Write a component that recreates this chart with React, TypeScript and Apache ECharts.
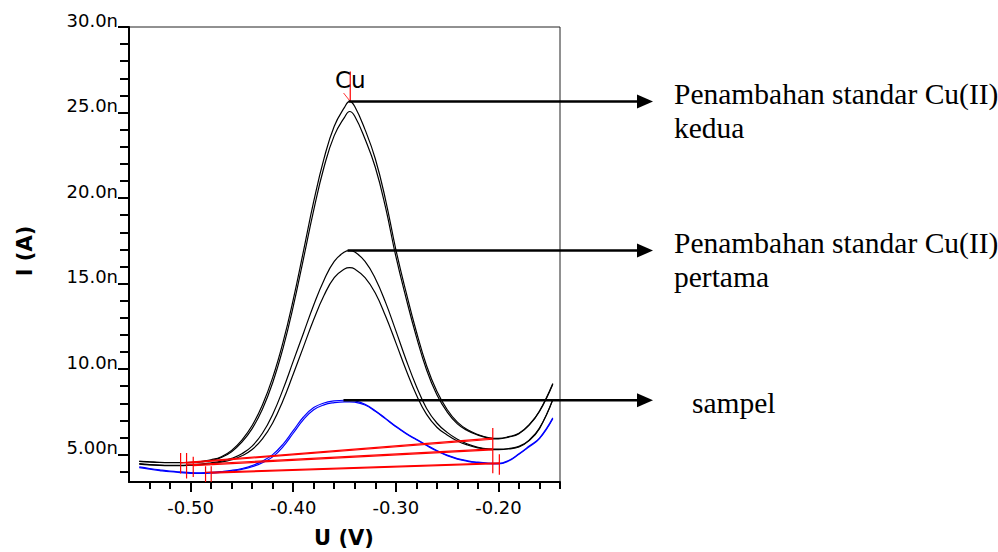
import React, { useEffect, useRef } from 'react';
import * as echarts from 'echarts';

// Potential (V) sampling points
const potentials = [
  -0.55, -0.54, -0.53, -0.52, -0.51, -0.50, -0.49, -0.48, -0.47, -0.46,
  -0.45, -0.44, -0.43, -0.42, -0.41, -0.40, -0.39, -0.38, -0.37, -0.36,
  -0.35, -0.345, -0.34, -0.33, -0.32, -0.31, -0.30, -0.29, -0.28, -0.27,
  -0.26, -0.25, -0.24, -0.23, -0.22, -0.21, -0.20, -0.19, -0.18, -0.17,
  -0.16, -0.147,
];

// Current (nA) - second standard addition (two scans)
const kedua1 = [
  4.61, 4.58, 4.55, 4.54, 4.54, 4.55, 4.6, 4.7, 4.88, 5.25,
  5.85, 6.7, 7.9, 9.5, 11.55, 14.05, 16.9, 19.8, 22.3, 24.2,
  25.3, 25.65, 25.35, 24.0, 22.3, 19.9, 17.0, 14.5, 12.2, 10.2,
  8.7, 7.64, 6.9, 6.45, 6.18, 6.0, 5.95, 6.05, 6.25, 6.75,
  7.55, 9.16,
];
const kedua2 = [
  4.6, 4.57, 4.54, 4.53, 4.53, 4.53, 4.57, 4.66, 4.83, 5.17,
  5.73, 6.52, 7.65, 9.2, 11.2, 13.65, 16.45, 19.3, 21.8, 23.65,
  24.72, 25.06, 24.78, 23.45, 21.8, 19.45, 16.6, 14.15, 11.9, 9.95,
  8.5, 7.5, 6.8, 6.4, 6.14, 5.97, 5.92, 6.02, 6.22, 6.72,
  7.52, 9.12,
];
// first standard addition (two scans)
const pertama1 = [
  4.47, 4.42, 4.39, 4.38, 4.38, 4.40, 4.44, 4.52, 4.62, 4.78,
  5.05, 5.5, 6.25, 7.35, 8.8, 10.45, 12.1, 13.75, 15.2, 16.3,
  16.85, 16.93, 16.85, 16.3, 15.3, 13.9, 12.25, 10.55, 9.0, 7.7,
  6.85, 6.3, 5.9, 5.62, 5.43, 5.34, 5.32, 5.36, 5.48, 5.85,
  6.55, 8.23,
];
const pertama2 = [
  4.45, 4.40, 4.37, 4.36, 4.36, 4.38, 4.41, 4.48, 4.56, 4.7,
  4.93, 5.3, 5.92, 6.85, 8.15, 9.7, 11.3, 12.9, 14.3, 15.35,
  15.85, 15.93, 15.85, 15.35, 14.45, 13.1, 11.55, 9.95, 8.5, 7.35,
  6.6, 6.15, 5.8, 5.56, 5.39, 5.31, 5.29, 5.33, 5.45, 5.82,
  6.52, 8.2,
];
// sample (two scans)
const sampel1 = [
  4.28, 4.19, 4.11, 4.04, 3.99, 3.95, 3.94, 3.96, 4.01, 4.08,
  4.19, 4.36, 4.62, 5.0, 5.6, 6.4, 7.2, 7.75, 8.02, 8.14,
  8.18, 8.18, 8.15, 7.95, 7.57, 7.12, 6.66, 6.25, 5.9, 5.56,
  5.24, 4.97, 4.77, 4.64, 4.56, 4.51, 4.49, 4.66, 5.05, 5.5,
  5.97, 7.15,
];
const sampel2 = [
  4.24, 4.15, 4.07, 4.0, 3.95, 3.91, 3.9, 3.92, 3.97, 4.04,
  4.14, 4.29, 4.53, 4.87, 5.45, 6.25, 7.05, 7.62, 7.91, 8.04,
  8.09, 8.09, 8.07, 7.9, 7.53, 7.09, 6.63, 6.22, 5.87, 5.53,
  5.21, 4.94, 4.74, 4.61, 4.53, 4.48, 4.46, 4.63, 5.02, 5.46,
  5.93, 7.1,
];

// Baselines (start / end points, [V, nA])
const baseKedua1 = [[-0.5097, 4.52], [-0.2055, 5.96]];
const baseKedua2 = [[-0.5039, 4.50], [-0.2055, 5.90]];
const basePertama1 = [[-0.5039, 4.40], [-0.2055, 5.34]];
const basePertama2 = [[-0.4974, 4.36], [-0.2055, 5.28]];
const baseSampel1 = [[-0.4854, 3.96], [-0.1991, 4.52]];
const baseSampel2 = [[-0.4799, 3.92], [-0.1991, 4.47]];

// Baseline end markers: [V, nA low, nA high]
const markerTicks = [
  [-0.5097, 3.89, 5.10],
  [-0.5039, 3.60, 5.10],
  [-0.4974, 3.69, 4.87],
  [-0.4854, 3.40, 4.32],
  [-0.4799, 3.40, 4.32],
  [-0.2055, 3.91, 6.55],
  [-0.1991, 3.82, 5.02],
];

// Peak marker "Cu"
const cuPeak = [-0.3444, 25.65];
const cuMarkTop = 27.4;
const cuMarkDiag = [-0.3509, 26.14];

// Arrow anchors (peak points)
const peakKedua = [-0.346, 25.65];
const peakPertama = [-0.347, 16.93];
const peakSampel = [-0.351, 8.18];

// Axis ticks
const xMajorTicks = [-0.5, -0.4, -0.3, -0.2];
const xMinorTicks = [-0.54, -0.52, -0.48, -0.46, -0.44, -0.42, -0.38, -0.36, -0.34, -0.32, -0.28, -0.26, -0.24, -0.22, -0.18, -0.16, -0.14];
const yMajorTicks = [5, 10, 15, 20, 25, 30];
const yMinorTicks = [4, 6, 7, 8, 9, 11, 12, 13, 14, 16, 17, 18, 19, 21, 22, 23, 24, 26, 27, 28, 29];

const SANS = "'DejaVu Sans', Verdana, sans-serif";
const SERIF = "'Liberation Serif', 'Times New Roman', serif";

const zip = (ys: number[]) => potentials.map((x, i) => [x, ys[i]]);

export default function App() {
  const ref = useRef<HTMLDivElement>(null);
  useEffect(() => {
    if (!ref.current) return;
    const chart = echarts.init(ref.current, undefined, { renderer: 'svg' });

    const curve = (ys: number[], color: string) => ({
      type: 'line', xAxisIndex: 0, yAxisIndex: 0, data: zip(ys), smooth: 0.45,
      showSymbol: false, symbol: 'none', silent: true,
      lineStyle: { color, width: 1.2 },
    });
    const seg = (pts: number[][], width = 1.2) => ({
      type: 'line', xAxisIndex: 0, yAxisIndex: 0, data: pts, showSymbol: false, symbol: 'none', silent: true,
      lineStyle: { color: '#ff0000', width },
    });

    const series: any[] = [
      curve(kedua1, '#000'), curve(kedua2, '#000'),
      curve(pertama1, '#000'), curve(pertama2, '#000'),
      curve(sampel1, '#0000ff'), curve(sampel2, '#0000ff'),
      seg(baseKedua1), seg(baseKedua2), seg(basePertama1), seg(basePertama2),
      seg(baseSampel1), seg(baseSampel2),
      ...markerTicks.map((t) => seg([[t[0], t[1]], [t[0], t[2]]])),
      seg([[cuPeak[0], cuPeak[1]], [cuPeak[0], cuMarkTop]]),
      seg([cuMarkDiag, cuPeak], 0.8),
    ];

    const tickStyle = { color: '#000', width: 2 };
    chart.setOption({
      animation: false,
      backgroundColor: '#fff',
      grid: { left: 129, right: 438, top: 27, bottom: 70, show: true, borderColor: '#222', borderWidth: 1 },
      xAxis: [
        {
          type: 'value', min: -0.56, max: -0.14, position: 'bottom',
          axisLine: { show: true, onZero: false, lineStyle: { color: '#000', width: 2 } },
          axisTick: { show: true, customValues: xMajorTicks, length: 10, lineStyle: tickStyle },
          axisLabel: { customValues: xMajorTicks, formatter: (v: number) => v.toFixed(2), fontFamily: SANS, fontSize: 18, color: '#000', margin: 16 },
          splitLine: { show: false },
        },
        {
          type: 'value', min: -0.56, max: -0.14, position: 'bottom',
          axisLine: { show: false, onZero: false },
          axisTick: { show: true, customValues: xMinorTicks, length: 7, lineStyle: tickStyle },
          axisLabel: { show: false },
          splitLine: { show: false },
        },
      ],
      yAxis: [
        {
          type: 'value', min: 3.4, max: 30, position: 'left',
          axisLine: { show: true, onZero: false, lineStyle: { color: '#000', width: 2 } },
          axisTick: { show: true, customValues: yMajorTicks, length: 11, lineStyle: tickStyle },
          axisLabel: {
            customValues: yMajorTicks, formatter: (v: number) => v.toPrecision(3) + 'n',
            fontFamily: SANS, fontSize: 18, color: '#000', margin: 11, verticalAlign: 'bottom', lineHeight: 14,
          },
          splitLine: { show: false },
        },
        {
          type: 'value', min: 3.4, max: 30, position: 'left',
          axisLine: { show: false, onZero: false },
          axisTick: { show: true, customValues: yMinorTicks, length: 9, lineStyle: tickStyle },
          axisLabel: { show: false },
          splitLine: { show: false },
        },
      ],
      series,
    });

    const toPx = (p: number[]) => chart.convertToPixel({ xAxisIndex: 0, yAxisIndex: 0 }, p) as number[];
    const arrowEnd = 653;
    const arrow = (p: number[]) => {
      const [x, y] = toPx(p);
      return [
        { type: 'line', shape: { x1: x, y1: y, x2: arrowEnd - 14, y2: y }, style: { stroke: '#000', lineWidth: 2.5 }, z: 100 },
        { type: 'polygon', shape: { points: [[arrowEnd - 16, y - 7], [arrowEnd, y], [arrowEnd - 16, y + 7]] }, style: { fill: '#000' }, z: 100 },
      ];
    };
    const cuPx = toPx(cuPeak);
    const serifText = (text: string, x: number, y: number) => ({
      type: 'text', x, y, z: 100,
      style: { text, fontFamily: SERIF, fontSize: 29.5, fill: '#000', align: 'left', verticalAlign: 'middle' },
    });

    chart.setOption({
      graphic: [
        ...arrow(peakKedua),
        ...arrow(peakPertama),
        ...arrow(peakSampel),
        { type: 'text', x: cuPx[0], y: cuPx[1] - 21, z: 100, style: { text: 'Cu', fontFamily: SANS, fontSize: 23, fill: '#000', align: 'center', verticalAlign: 'middle' } },
        serifText('Penambahan standar Cu(II)', 674, 94),
        serifText('kedua', 674, 128),
        serifText('Penambahan standar Cu(II)', 674, 243),
        serifText('pertama', 674, 277),
        serifText('sampel', 692, 403),
        { type: 'text', x: 344, y: 538, z: 100, style: { text: 'U (V)', fontFamily: SANS, fontWeight: 'bold', fontSize: 21, fill: '#000', align: 'center', verticalAlign: 'middle' } },
        { type: 'text', x: 25, y: 251, rotation: Math.PI / 2, z: 100, style: { text: 'I (A)', fontFamily: SANS, fontWeight: 'bold', fontSize: 21, fill: '#000', align: 'center', verticalAlign: 'middle' } },
      ],
    });

    return () => chart.dispose();
  }, []);
  return <div ref={ref} style={{ position: 'fixed', left: 0, top: 0, width: 998, height: 552, background: '#fff' }} />;
}
